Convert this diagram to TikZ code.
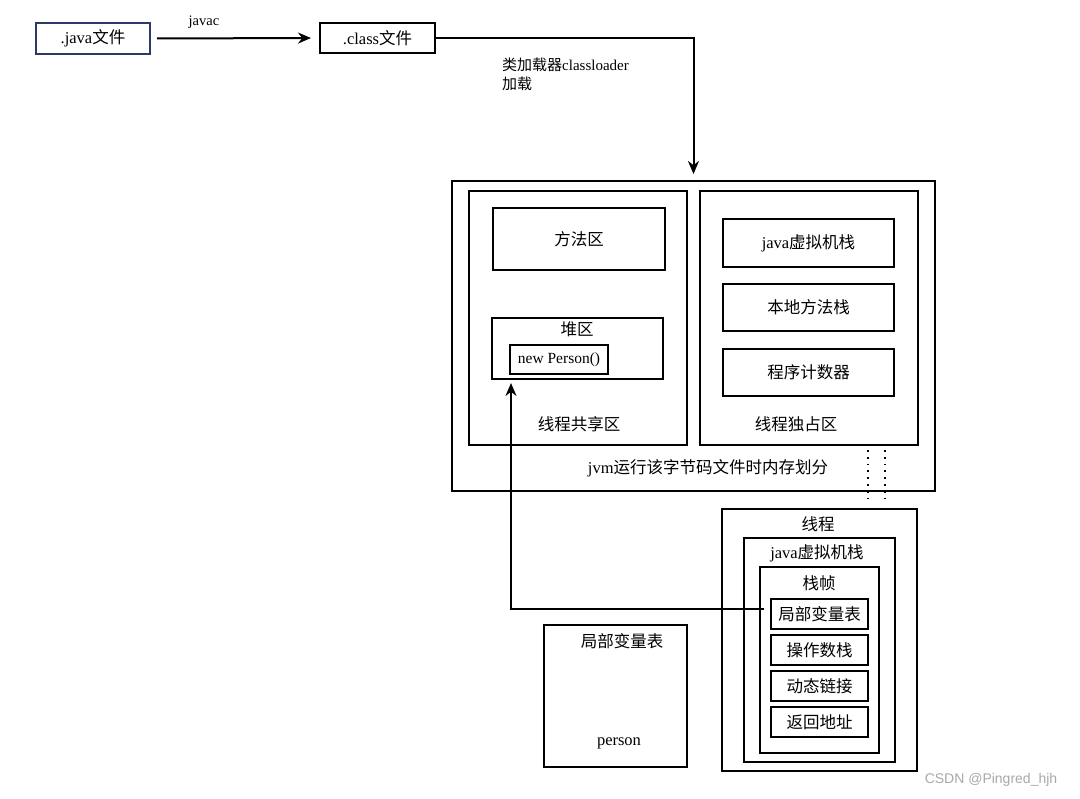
\documentclass[tikz,border=0pt]{standalone}
\usepackage{fontspec}
\setmainfont{Liberation Serif}
\newfontfamily\zhfont{Noto Sans CJK SC}
\newfontfamily\wmfont{Liberation Sans}
\usepackage{xcolor}
\usetikzlibrary{arrows.meta,positioning}
\definecolor{javanavy}{HTML}{2B3A67}
\definecolor{wmgray}{HTML}{A8A8A8}
\newcommand{\zh}[1]{{\zhfont #1}}

\begin{document}
\begin{tikzpicture}[x=1pt, y=-1pt,
  box/.style={draw, line width=2pt, inner sep=0pt, font=\fontsize{16.5}{19}\selectfont},
  txt/.style={inner sep=0pt, font=\fontsize{16.5}{19}\selectfont},
  arr/.style={draw, line width=2pt, -{Stealth[length=13pt, width=11pt]}},
  dots/.style={draw, line width=1.8pt, dash pattern=on 1.8pt off 5pt}]
\useasboundingbox (0,0) rectangle (1080,799);

% source and bytecode
\node[box, draw=javanavy, minimum width=114pt, minimum height=31pt] (java) at (93,38.5) {.java\zh{文件}};
\node[box, minimum width=115pt, minimum height=30pt] (class) at (377.5,38) {.class\zh{文件}};
\node[txt, font=\fontsize{14.5}{16}\selectfont] (javac) at (204,22) {javac};
\node[txt, anchor=west, align=left, font=\fontsize{15}{19}\selectfont] (loader) at (502,74) {\zh{类加载器}classloader\\\zh{加载}};

% jvm memory
\node[box, minimum width=483pt, minimum height=310pt] (jvm) at (693.5,336) {};
\node[box, minimum width=218pt, minimum height=254pt] (shared) at (578,318) {};
\node[box, minimum width=218pt, minimum height=254pt] (excl) at (809,318) {};
\node[box, minimum width=172pt, minimum height=62pt] (method) at (579,239) {\zh{方法区}};
\node[box, minimum width=171pt, minimum height=61pt] (heap) at (577.5,348.5) {};
\node[txt] (heaplbl) at (577,329) {\zh{堆区}};
\node[box, minimum width=98pt, minimum height=29pt, font=\fontsize{15.5}{18}\selectfont] (newp) at (559,359.5) {new Person()};
\node[box, minimum width=171pt, minimum height=48pt] (jstack) at (808.5,243) {java\zh{虚拟机栈}};
\node[box, minimum width=171pt, minimum height=47pt] (native) at (808.5,307.5) {\zh{本地方法栈}};
\node[box, minimum width=171pt, minimum height=47pt] (pc) at (808.5,372.5) {\zh{程序计数器}};
\node[txt] (sharedlbl) at (579,424) {\zh{线程共享区}};
\node[txt] (excllbl) at (796,424) {\zh{线程独占区}};
\node[txt] (jvmlbl) at (708,468) {jvm\zh{运行该字节码文件时内存划分}};

% thread
\node[box, minimum width=195pt, minimum height=262pt] (thread) at (819.5,640) {};
\node[txt] (threadlbl) at (818,524) {\zh{线程}};
\node[box, minimum width=151pt, minimum height=224pt] (tstack) at (819.5,650) {};
\node[txt] (tstacklbl) at (817,553) {java\zh{虚拟机栈}};
\node[box, minimum width=119pt, minimum height=186pt] (frame) at (819.5,660) {};
\node[txt] (framelbl) at (819,583) {\zh{栈帧}};
\node[box, minimum width=97pt, minimum height=30pt] (locals) at (819.5,614) {\zh{局部变量表}};
\node[box, minimum width=97pt, minimum height=30pt] (opstack) at (819.5,650) {\zh{操作数栈}};
\node[box, minimum width=97pt, minimum height=30pt] (dynlink) at (819.5,686) {\zh{动态链接}};
\node[box, minimum width=97pt, minimum height=30pt] (retaddr) at (819.5,722) {\zh{返回地址}};

% local variable table
\node[box, minimum width=143pt, minimum height=142pt] (lvt) at (615.5,696) {};
\node[txt] (lvtlbl) at (622,641) {\zh{局部变量表}};
\node[txt] (person) at (619,743) {person};

\node[txt, text=wmgray, font=\wmfont\fontsize{14}{16}\selectfont] (wm) at (991,780) {CSDN @Pingred\_hjh};

% connectors
\coordinate (bend) at (511,609);
\coordinate (up) at (511,379);
\draw[arr, shorten <=6pt, shorten >=8pt] (java.east) -- (class.west);
\draw[arr, shorten >=6pt] (class.east) -| (jvm.north);
\draw[arr, shorten <=6pt, shorten >=4pt] ([yshift=5pt]locals.west) -- (bend) -- (up);
\draw[dots] ([xshift=59pt, yshift=-4pt]excl.south) -- ([xshift=48.5pt, yshift=4pt]thread.north);
\draw[dots] ([xshift=76pt, yshift=-4pt]excl.south) -- ([xshift=65.5pt, yshift=4pt]thread.north);
\end{tikzpicture}
\end{document}
